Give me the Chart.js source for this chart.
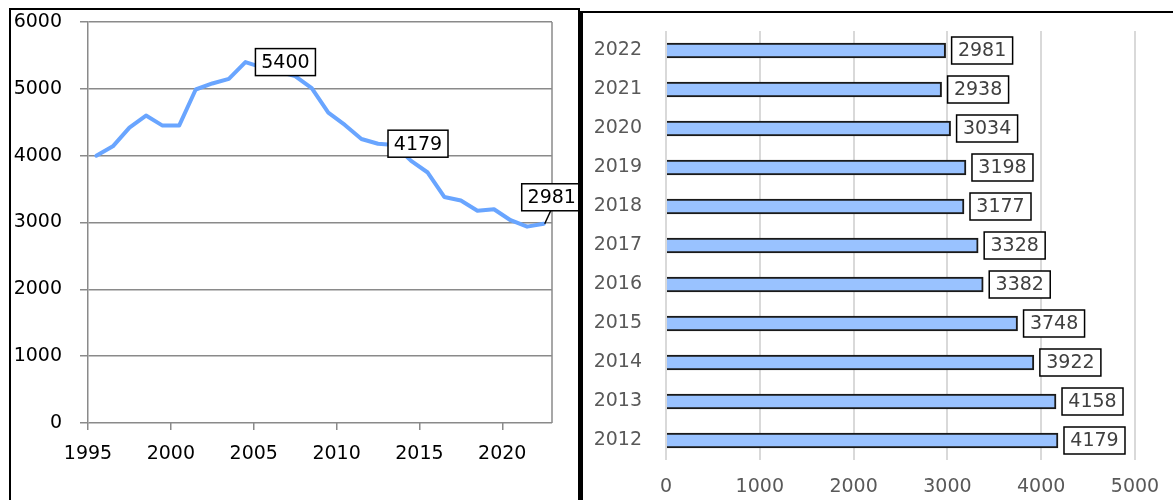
<!DOCTYPE html>
<html>
<head>
<meta charset="utf-8">
<script src="https://cdn.jsdelivr.net/npm/chart.js@4.4.1/dist/chart.umd.min.js"></script>
<style>
  body { margin: 0; background: #fff; width: 1173px; height: 500px; overflow: hidden; position: relative; }
  #left { position: absolute; left: 9px; top: 8px; width: 567px; height: 500px; border: 2px solid #000; border-bottom: none; }
  #right { position: absolute; left: 580px; top: 11px; width: 600px; height: 500px; border-left: 3px solid #000; border-top: 2px solid #000; }
  canvas { display: block; }
</style>
</head>
<body>
<div id="left"><canvas id="line-chart" width="567" height="490"></canvas></div>
<div id="right"><canvas id="bar-chart" width="590" height="487"></canvas></div>
<script>
// left panel: yearly series
const lineYears = [1995, 1996, 1997, 1998, 1999, 2000, 2001, 2002, 2003, 2004,
                   2005, 2006, 2007, 2008, 2009, 2010, 2011, 2012, 2013, 2014,
                   2015, 2016, 2017, 2018, 2019, 2020, 2021, 2022];
const lineValues = [4000, 4140, 4420, 4600, 4450, 4450, 4990, 5080, 5150, 5400,
                    5320, 5260, 5190, 5010, 4645, 4460, 4250, 4179, 4158, 3922,
                    3748, 3382, 3328, 3177, 3198, 3034, 2938, 2981];
const lineTicks = [1995, 2000, 2005, 2010, 2015, 2020];
const lineLabelYears = [2004, 2012, 2022];

// right panel: last eleven years, top to bottom
const barYears = ['2022', '2021', '2020', '2019', '2018', '2017', '2016', '2015', '2014', '2013', '2012'];
const barValues = [2981, 2938, 3034, 3198, 3177, 3328, 3382, 3748, 3922, 4158, 4179];

Chart.defaults.font.family = '"DejaVu Sans", Verdana, sans-serif';
Chart.defaults.font.size = 19;

const gridGrey = '#8a8a8a';
const boxFont = '19px "DejaVu Sans"';

function drawBox(ctx, text, x, y, w, h, color) {
    ctx.fillStyle = '#fff';
    ctx.fillRect(x, y, w, h);
    ctx.strokeStyle = '#000';
    ctx.lineWidth = 1.5;
    ctx.strokeRect(x, y, w, h);
    ctx.fillStyle = color;
    ctx.textAlign = 'center';
    ctx.textBaseline = 'middle';
    ctx.fillText(text, x + w / 2, y + h / 2 + 1);
}

// tick padding would otherwise be added around the plot
function noVerticalPadding(s) {
    s.paddingTop = 0;
    s.paddingBottom = 0;
}
function noSidePadding(s) {
    s.paddingLeft = 0;
    s.paddingRight = 0;
}

const plotFrame = {
    id: 'plotFrame',
    beforeDatasetsDraw(chart) {
        const a = chart.chartArea;
        const ctx = chart.ctx;
        ctx.save();
        ctx.strokeStyle = gridGrey;
        ctx.lineWidth = 1.5;
        ctx.beginPath();
        ctx.moveTo(a.right, a.top);
        ctx.lineTo(a.right, a.bottom);
        ctx.stroke();
        ctx.restore();
    }
};

const lineLabels = {
    id: 'lineLabels',
    afterDatasetsDraw(chart) {
        const ctx = chart.ctx;
        const pts = chart.getDatasetMeta(0).data;
        ctx.save();
        ctx.font = boxFont;
        lineLabelYears.forEach(year => {
            const i = lineYears.indexOf(year);
            const p = pts[i];
            const text = String(lineValues[i]);
            const w = Math.round(ctx.measureText(text).width + 12);
            const h = 27;
            let bx = p.x + 10;
            let by = p.y - h / 2;
            if (bx + w > chart.width) {
                // not enough room on the right, lift it above with a leader line
                bx = p.x - 22;
                by = p.y - 13 - h;
                ctx.strokeStyle = '#000';
                ctx.lineWidth = 1.5;
                ctx.beginPath();
                ctx.moveTo(p.x + 1, p.y);
                ctx.lineTo(p.x + 7, by + h);
                ctx.stroke();
            }
            drawBox(ctx, text, bx, by, w, h, '#000');
        });
        ctx.restore();
    }
};

const barLabels = {
    id: 'barLabels',
    afterDatasetsDraw(chart) {
        const ctx = chart.ctx;
        const bars = chart.getDatasetMeta(0).data;
        ctx.save();
        ctx.font = boxFont;
        bars.forEach((bar, i) => {
            const text = String(barValues[i]);
            const w = Math.round(ctx.measureText(text).width + 13);
            const h = 27;
            drawBox(ctx, text, bar.x + 6, bar.y - h / 2, w, h, '#404040');
        });
        ctx.restore();
    }
};

new Chart(document.getElementById('line-chart'), {
    type: 'line',
    data: {
        datasets: [{
            // Excel puts each year in the middle of its slot
            data: lineYears.map((yr, i) => ({ x: yr + 0.5, y: lineValues[i] })),
            borderColor: '#69a5ff',
            borderWidth: 4,
            borderJoinStyle: 'round',
            borderCapStyle: 'round',
            pointRadius: 0,
            tension: 0,
            fill: false
        }]
    },
    options: {
        responsive: false,
        animation: false,
        devicePixelRatio: 1,
        layout: { padding: { left: 0, top: 12, right: 26, bottom: 0 } },
        plugins: { legend: { display: false }, tooltip: { enabled: false } },
        scales: {
            x: {
                type: 'linear',
                min: 1995,
                max: 2023,
                afterBuildTicks: s => { s.ticks = lineTicks.map(v => ({ value: v })); },
                afterFit: s => { s.height = 77; noSidePadding(s); },
                ticks: { color: '#000', padding: 13, maxRotation: 0, callback: v => String(v) },
                grid: { drawOnChartArea: false, drawTicks: true, tickLength: 7, color: gridGrey, lineWidth: 1.5 },
                border: { display: false }
            },
            y: {
                min: 0,
                max: 6000,
                afterFit: s => { s.width = 77; noVerticalPadding(s); },
                ticks: { stepSize: 1000, color: '#000', padding: 18, callback: v => String(v) },
                grid: { color: gridGrey, lineWidth: 1.5, tickLength: 8 },
                border: { display: true, color: gridGrey, width: 1.5 }
            }
        }
    },
    plugins: [plotFrame, lineLabels]
});

new Chart(document.getElementById('bar-chart'), {
    type: 'bar',
    data: {
        labels: barYears,
        datasets: [{
            data: barValues,
            backgroundColor: '#99c2ff',
            borderColor: '#1a1a1a',
            borderWidth: 2,
            barThickness: 15
        }]
    },
    options: {
        indexAxis: 'y',
        responsive: false,
        animation: false,
        devicePixelRatio: 1,
        layout: { padding: { left: 0, top: 18, right: 38, bottom: 0 } },
        plugins: { legend: { display: false }, tooltip: { enabled: false } },
        scales: {
            x: {
                min: 0,
                max: 5000,
                afterFit: s => { s.height = 40; noSidePadding(s); },
                ticks: { stepSize: 1000, color: '#595959', padding: 16, callback: v => String(v) },
                grid: { color: '#d9d9d9', lineWidth: 2, drawTicks: false },
                border: { display: false }
            },
            y: {
                afterFit: s => { s.width = 83; noVerticalPadding(s); },
                ticks: { color: '#595959', padding: 24 },
                grid: { display: false, drawTicks: false },
                border: { display: false }
            }
        }
    },
    plugins: [barLabels]
});
</script>
</body>
</html>
